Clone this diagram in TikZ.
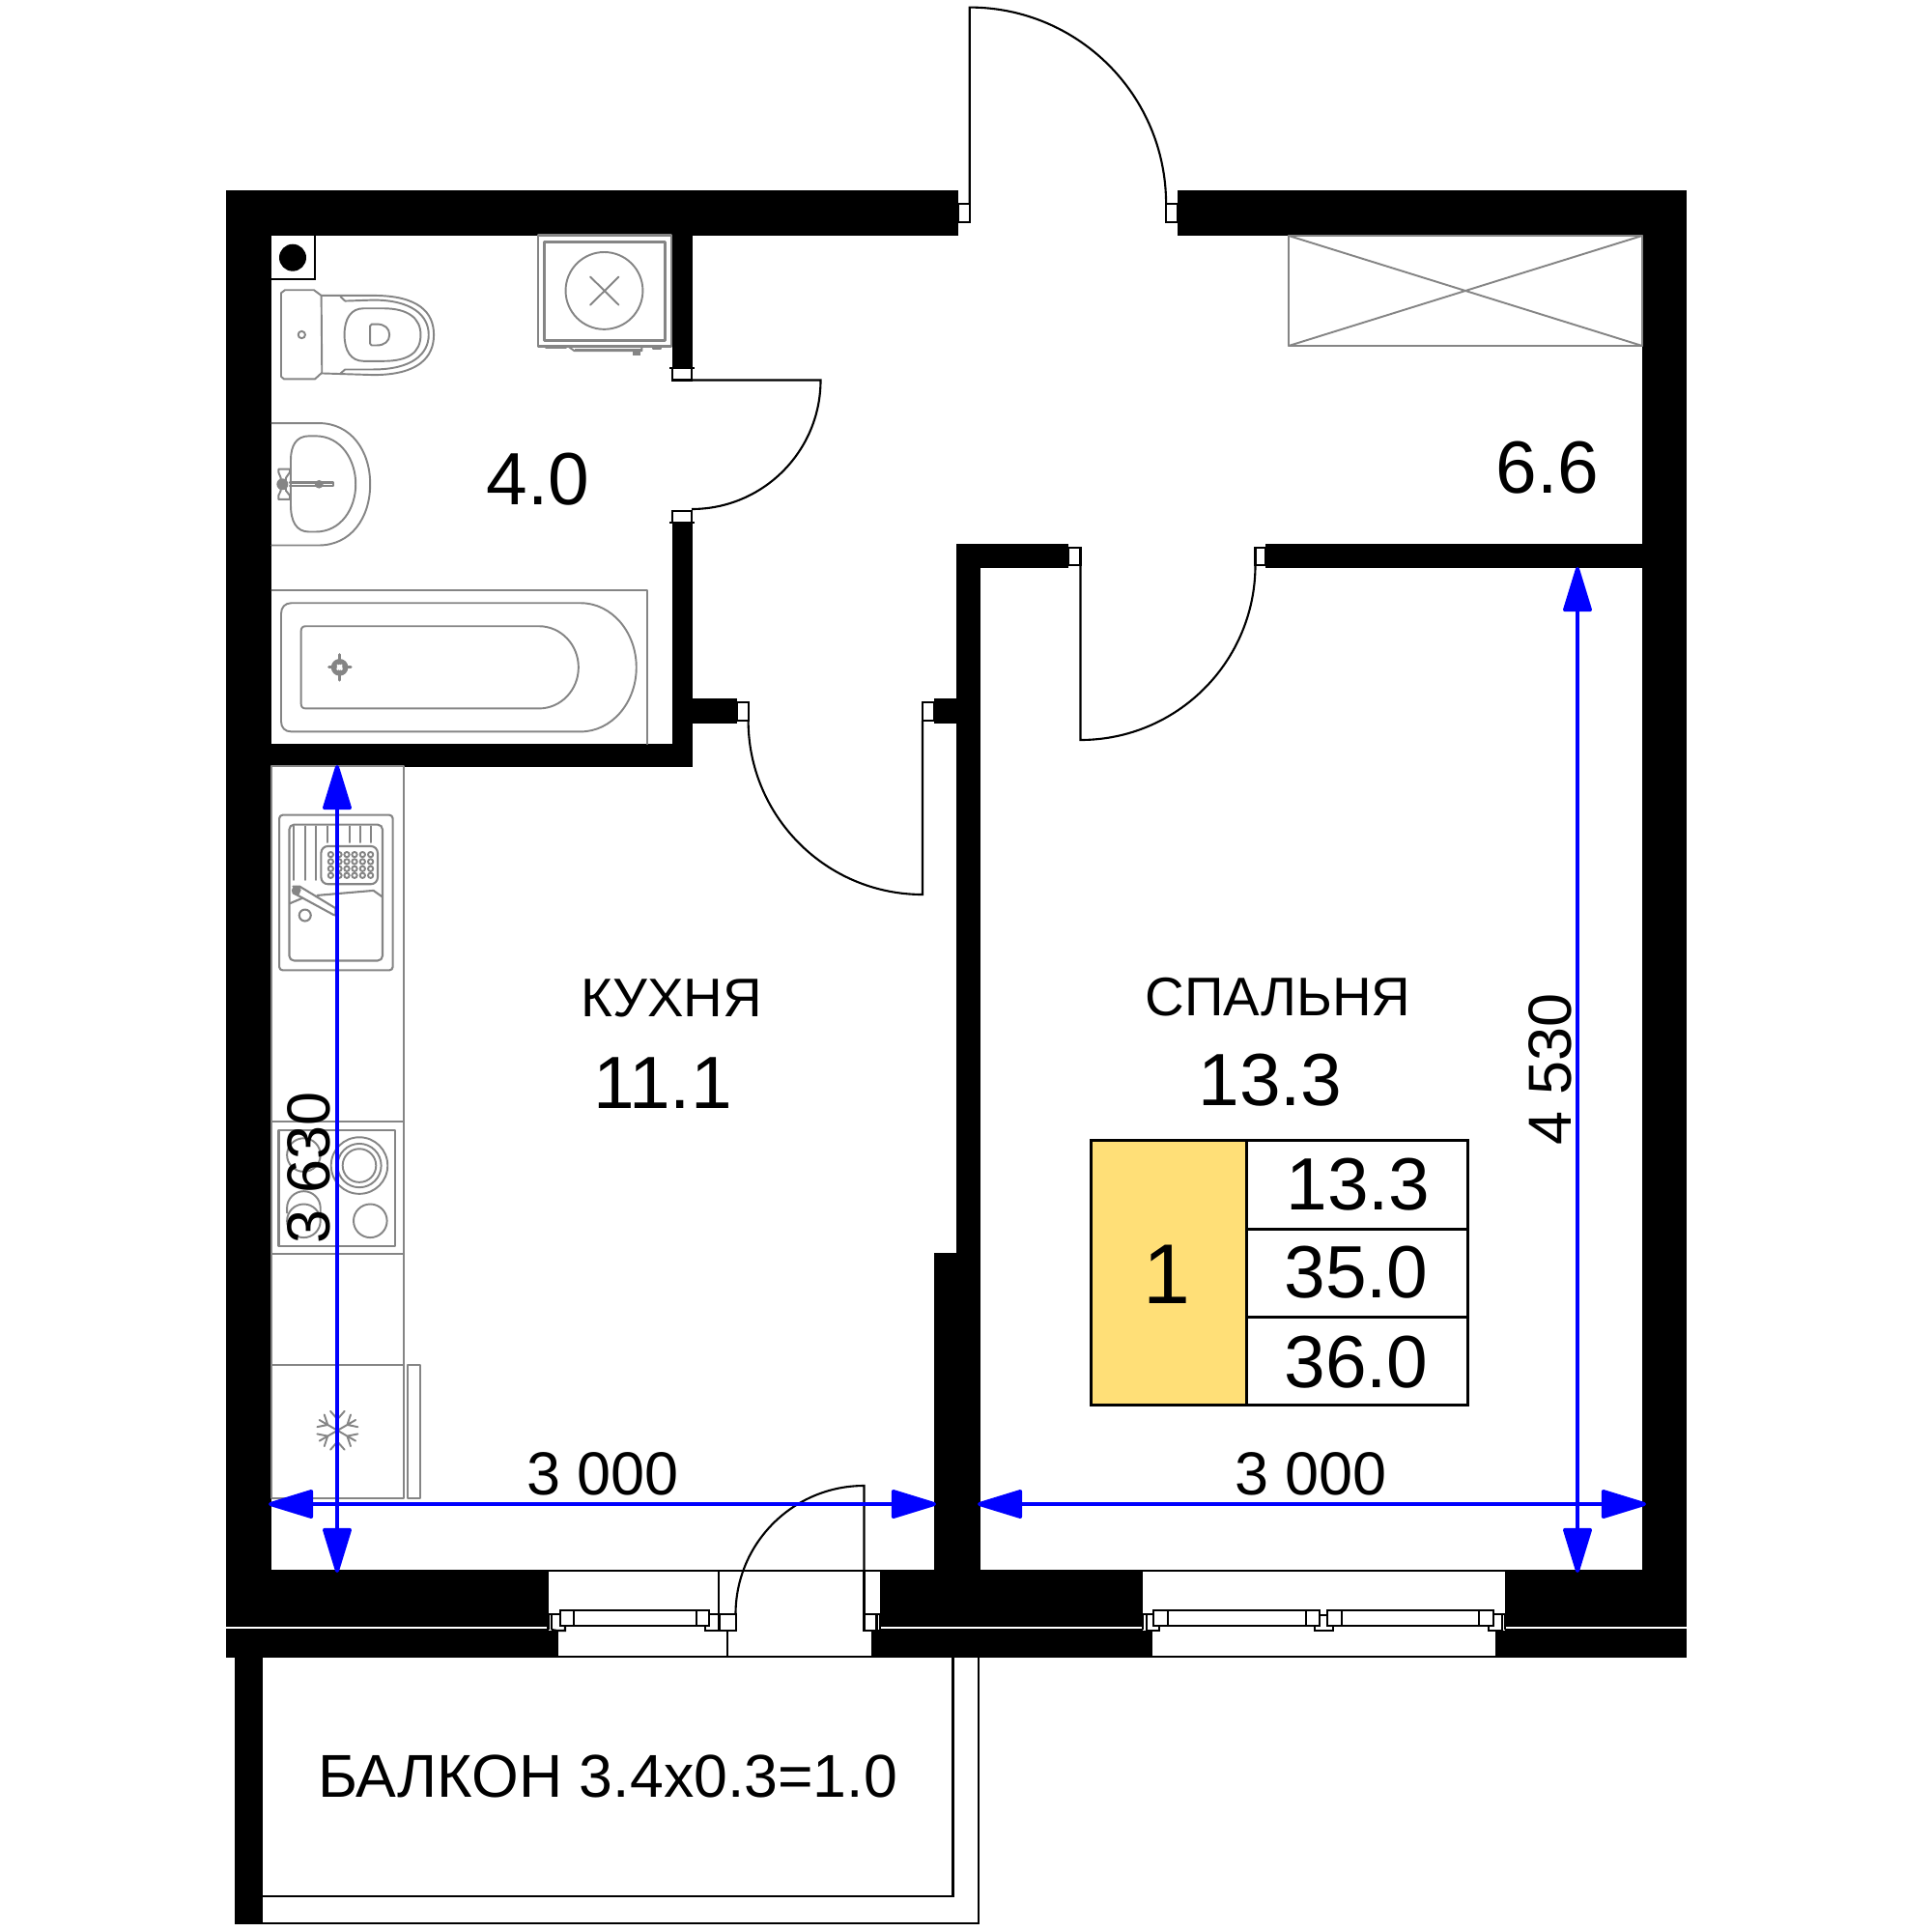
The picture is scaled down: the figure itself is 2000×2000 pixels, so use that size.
\documentclass[tikz,border=0pt]{standalone}
\usepackage{fontspec}
\setmainfont{Liberation Sans}
\usetikzlibrary{arrows.meta}
\definecolor{fixgray}{HTML}{858585}
\definecolor{cellyellow}{HTML}{FFDF77}
\definecolor{dimblue}{HTML}{0000FF}
\tikzset{
  wall/.style={fill=black,draw=none},
  opening/.style={fill=white,draw=none},
  doorline/.style={draw=black,line width=0.6pt,line join=miter},
  fix/.style={draw=fixgray,line width=0.55pt,line cap=round,line join=round},
  dimline/.style={draw=dimblue,line width=1.15pt,{Triangle[length=14.6pt,width=8.6pt,round]}-{Triangle[length=14.6pt,width=8.6pt,round]}},
  zA/.style={x=0.0033333cm,y=-0.0033333cm,shift={(2.2cm,-1.9cm)}},
  zB/.style={x=0.0033333cm,y=-0.0033333cm,shift={(2.2cm,-5.8cm)}},
  zC/.style={x=0.0033333cm,y=-0.0033333cm,shift={(2.7cm,-7.8cm)}},
  zD/.style={x=0.0033333cm,y=-0.0033333cm,shift={(2.7cm,-11.4cm)}},
  txt/.style={anchor=base,inner sep=0pt,outer sep=0pt,text=black},
  bigt/.style={txt,font=\fontsize{21.8pt}{24pt}\selectfont},
  roomt/.style={txt,font=\fontsize{16pt}{18pt}\selectfont},
  dimt/.style={txt,font=\fontsize{17.9pt}{19pt}\selectfont},
}
\begin{document}
\begin{tikzpicture}[x=0.01cm,y=-0.01cm]
\useasboundingbox (0,0) rectangle (2000,2000);
% walls
\fill[wall] (234,197) rectangle (992,244);
\fill[wall] (1219,197) rectangle (1746,244);
\fill[wall] (234,197) rectangle (281,1716);
\fill[wall] (1700,197) rectangle (1746,1716);
\fill[wall] (234,1625) rectangle (1746,1716);
\fill[wall] (696,244) rectangle (716.5,381);
\fill[wall] (696,541) rectangle (716.5,794);
\fill[wall] (281,770) rectangle (716.5,794);
\fill[wall] (716,723) rectangle (763,749);
\fill[wall] (967,723) rectangle (990,749);
\fill[wall] (990,563) rectangle (1014.5,1297);
\fill[wall] (967,1297) rectangle (1015,1625);
\fill[wall] (990,563) rectangle (1106,588);
\fill[wall] (1310,563) rectangle (1700,588);
\fill[wall] (243,1716) rectangle (272,1992);
% thin white joint in the wall
\fill[white] (234,1684.3) rectangle (1746,1686);
% openings
\fill[opening] (567.5,1627) rectangle (911,1688);
\fill[opening] (577,1688) rectangle (903,1714);
\fill[opening] (1182.6,1627) rectangle (1558,1688);
\fill[opening] (1191.5,1688) rectangle (1549,1714);
% kitchen window
\draw[doorline] (580,1667) rectangle (734,1683);
\draw[doorline] (594,1667) -- (594,1683) (721,1667) -- (721,1683);
\draw[doorline] (567.5,1671) -- (580,1671) (567.5,1671) -- (567.5,1687) (571,1671) -- (571,1687);
\draw[doorline] (571,1687) -- (577,1688) -- (585,1688) -- (585,1683);
\draw[doorline] (734,1671) -- (745,1671) (730,1683) -- (730,1688) -- (745,1688);
% balcony door
\draw[doorline] (745,1671) rectangle (762,1688);
\draw[doorline] (744,1627) -- (744,1688);
\draw[doorline] (752.6,1688) -- (752.6,1714);
\draw[doorline] (894.5,1671) rectangle (911,1688);
\draw[doorline] (907.5,1671) -- (907.5,1688);
\draw[doorline] (894.5,1627) -- (894.5,1671);
\draw[doorline] (894.5,1671) -- (894.5,1538) arc[start angle=-90,end angle=-180,radius=133];
% bedroom window
\draw[doorline] (1194,1667) rectangle (1366,1683);
\draw[doorline] (1209,1667) -- (1209,1683) (1352,1667) -- (1352,1683);
\draw[doorline] (1374,1667) rectangle (1546,1683);
\draw[doorline] (1388.6,1667) -- (1388.6,1683) (1531,1667) -- (1531,1683);
\draw[doorline] (1366,1672) -- (1374,1672);
\draw[doorline] (1361,1683) -- (1361,1688) -- (1380,1688) -- (1380,1683);
\draw[doorline] (1182.6,1671) -- (1194,1671) (1182.6,1671) -- (1182.6,1687) (1186.6,1671) -- (1186.6,1688) -- (1200,1688) -- (1200,1683);
\draw[doorline] (1546,1671) -- (1558,1671) (1558,1671) -- (1558,1687) (1555,1671) -- (1555,1688) -- (1541,1688) -- (1541,1683);
% lines along the openings
\draw[doorline] (567.5,1626) -- (911,1626);
\draw[doorline] (1182.6,1626) -- (1558,1626);
\draw[doorline] (577,1688) -- (577,1715) -- (903,1715) -- (903,1688);
\draw[doorline] (1191.5,1688) -- (1191.5,1715) -- (1549,1715) -- (1549,1688);
% entrance door
\draw[doorline] (992,211) rectangle (1003.7,230);
\draw[doorline] (1207,211) rectangle (1219,230);
\draw[doorline] (1003.7,211) -- (1003.7,7.6) arc[start angle=-90,end angle=0,radius=203.4];
% bathroom door
\draw[doorline] (696,381) rectangle (716,393.5);
\draw[doorline] (696,529) rectangle (716,541);
\draw[doorline] (693,381) -- (719,381) (693,541) -- (719,541);
\draw[doorline] (716,393.5) -- (849.5,393.5) arc[start angle=0,end angle=90,radius=133.5];
% kitchen door
\draw[doorline] (763,727) rectangle (774.6,746);
\draw[doorline] (955,727) rectangle (967,746);
\draw[doorline] (955,746) -- (955,926) arc[start angle=90,end angle=180,radius=180.4];
% bedroom door
\draw[doorline] (1106,567) rectangle (1118.5,585);
\draw[doorline] (1299.5,567) rectangle (1310,585);
\draw[doorline] (1118.5,585) -- (1118.5,766) arc[start angle=90,end angle=0,radius=181];
% balcony rails
\draw[doorline] (272,1963) -- (986.5,1963) -- (986.5,1716);
\draw[doorline] (272,1991) -- (1013,1991) -- (1013,1716);
% shaft
\draw[doorline] (281,289) -- (326,289) -- (326,244);
\fill[black] (303,266.7) circle (14);
% wardrobe
\draw[fix] (1334,244) rectangle (1700,358);
\draw[fix] (1334,244) -- (1700,358) (1334,358) -- (1700,244);
% toilet, sink, boiler
\begin{scope}[zA]
\draw[fix] (225,331) -- (315,331) -- (338,348) -- (340,588) -- (318,608) -- (222,608) -- (213,600) -- (213,340) -- cycle;
\draw[fix] (277,470) circle (11);
\draw[fix] (340,348) -- (500,348) .. controls (640,348) and (688,400) .. (688,470) .. controls (688,540) and (640,595) .. (500,595) -- (340,590);
\draw[fix] (398,352) -- (412,365) -- (500,362) .. controls (620,362) and (672,410) .. (672,470) .. controls (672,530) and (620,578) .. (500,578) -- (412,578) -- (398,590);
\draw[fix] (470,388) -- (530,388) .. controls (610,388) and (647,420) .. (647,470) .. controls (647,525) and (610,552) .. (530,552) -- (470,552) .. controls (430,552) and (410,520) .. (410,470) .. controls (410,420) and (430,388) .. (470,388) -- cycle;
\draw[fix] (495,437) -- (510,437) .. controls (535,437) and (550,450) .. (550,470) .. controls (550,490) and (535,503) .. (510,503) -- (495,503) -- (490,498) -- (490,442) -- cycle;
\draw[fix,line width=0.8pt] (1012,160) rectangle (1427,505);
\draw[fix,line width=0.8pt] (1032,181) rectangle (1407,487);
\draw[fix] (1218,333) circle (120);
\draw[fix] (1175,290) -- (1263,377) (1175,377) -- (1263,290);
\draw[fix] (1035,505) rectangle (1098,510);
\draw[fix] (1107,507) -- (1335,507) -- (1335,520) -- (1125,520) -- cycle;
\fill[fixgray] (1125,514) rectangle (1335,520);
\fill[fixgray] (1308,520) rectangle (1332,534);
\draw[fix] (1370,505) rectangle (1395,513);
\draw[fix] (184,745) -- (330,745) .. controls (430,745) and (490,830) .. (490,935) .. controls (490,1040) and (430,1125) .. (330,1125) -- (184,1125);
\draw[fix] (300,785) -- (320,785) .. controls (400,785) and (445,860) .. (445,935) .. controls (445,1010) and (400,1083) .. (320,1083) -- (300,1083) .. controls (260,1083) and (243,1050) .. (243,1000) -- (243,860) .. controls (243,815) and (260,785) .. (300,785) -- cycle;
\draw[fix,line width=0.7pt] (240,930) -- (375,930) -- (375,940) -- (240,940);
\fill[fixgray] (331,935) circle (13);
\fill[fixgray] (217,935) circle (18);
\draw[fix] (205,888) -- (240,888) -- (240,898) -- (228,915) -- (228,955) -- (240,970) -- (240,982) -- (205,982) -- (205,970) -- (212,955) -- (212,915) -- (205,898) -- cycle;
\end{scope}
% bath
\begin{scope}[zB]
\draw[fix] (184,92) -- (1352,92) -- (1352,570);
\draw[fix] (245,132) -- (1145,132) arc[start angle=-90,end angle=90,x radius=173,y radius=200] -- (245,532) .. controls (225,532) and (213,520) .. (213,500) -- (213,165) .. controls (213,145) and (225,132) .. (245,132) -- cycle;
\draw[fix] (290,204) -- (1015,204) arc[start angle=-90,end angle=90,x radius=123,y radius=128] -- (290,460) .. controls (280,460) and (275,455) .. (275,445) -- (275,219) .. controls (275,209) and (280,204) .. (290,204) -- cycle;
\draw[fix,line width=1.4pt,line cap=butt] (395,332) circle (19);
\draw[fix,line width=0.8pt] (362,332) -- (430,332) (395,292) -- (395,372);
\fill[white] (395,332) circle (9);
\end{scope}
% kitchen counter
\draw[fix,line width=0.6pt] (281,793) rectangle (417.7,1412.7);
\draw[fix] (281,1160.7) -- (417.7,1160.7) (281,1298) -- (417.7,1298);
\begin{scope}[zC]
\draw[fix,rounded corners=1pt,line width=0.6pt] (57,190) rectangle (410,673);
\draw[fix,rounded corners=1.4pt,line width=0.6pt] (88,220) rectangle (378,643);
\foreach \xr in {102,138,172} {\draw[fix,line width=0.6pt] (\xr,225) -- (\xr,392);}
\foreach \xr in {207,275,310,343} {\draw[fix,line width=0.6pt] (\xr,225) -- (\xr,275);}
\draw[fix,rounded corners=2pt,line width=0.6pt] (187,287) rectangle (363,405);
\foreach \xr in {217,243,267,291,316,341} {\foreach \yr in {313,335,357,378} {\draw[fix] (\xr,\yr) circle (8);}}
\draw[fix,line width=0.6pt] (175,440) -- (350,425) -- (378,445);
\draw[fix,line width=0.6pt] (90,465) -- (130,448);
\draw[fix,line width=0.6pt] (137,502) circle (18);
\draw[fix,line width=0.6pt] (100,412) -- (120,412) -- (232,480) -- (232,502) -- (225,500) -- (100,432);
\fill[fixgray] (110,425) circle (15);
\fill[white] (125,425) -- (225,485) -- (222,492) -- (120,435) -- cycle;
\end{scope}
% hob, fridge
\begin{scope}[zD]
\draw[fix,line width=0.6pt] (55,88) rectangle (418,450);
\draw[fix] (306,198) circle (88) (306,198) circle (68) (306,198) circle (52);
\draw[fix] (340,370) circle (52);
\draw[fix] (133,165) circle (52);
\draw[fix] (133,370) circle (52);
\draw[fix] (81,345) -- (81,330) arc[start angle=180,end angle=360,radius=52] -- (185,345);
\draw[fix,line width=0.6pt] (32,818) rectangle (443,1232);
\draw[fix,line width=0.6pt] (457,818) rectangle (494,1232);
\foreach \ang in {30,90,150,210,270,330} {
  \begin{scope}[shift={(238,1022)},rotate=\ang]
  \draw[fix] (0,0) -- (65,0) (35,0) -- (60,22) (35,0) -- (60,-22);
  \end{scope}
}
\end{scope}
% table
\fill[cellyellow] (1129,1180) rectangle (1290,1454);
\draw[black,line width=0.85pt] (1129,1180) rectangle (1519,1454);
\draw[black,line width=0.85pt] (1290,1180) -- (1290,1454) (1290,1272) -- (1519,1272) (1290,1363) -- (1519,1363);
% dimensions
\coordinate (dl1) at (278,1557);
\coordinate (dr1) at (969,1557);
\coordinate (dl2) at (1012,1557);
\coordinate (dr2) at (1704,1557);
\coordinate (dt1) at (349,792);
\coordinate (db1) at (349,1628);
\coordinate (dt2) at (1633,587);
\coordinate (db2) at (1633,1628);
\draw[dimline] (dl1) -- (dr1);
\draw[dimline] (dl2) -- (dr2);
\draw[dimline] (dt1) -- (db1);
\draw[dimline] (dt2) -- (db2);
% labels
\node[bigt] (tBath) at (557,522) {4.0};
\node[bigt] (tHall) at (1602,510) {6.6};
\node[roomt] (tKitchen) at (695,1052) {КУХНЯ};
\node[bigt] (tKitchenA) at (686,1147) {11.1};
\node[roomt] (tBedroom) at (1323,1051) {СПАЛЬНЯ};
\node[bigt] (tBedroomA) at (1315,1144) {13.3};
\node[txt,font=\fontsize{25pt}{28pt}\selectfont] (tRooms) at (1208,1349) {1};
\node[bigt] (tLiving) at (1406,1252) {13.3};
\node[bigt] (tTotalA) at (1404,1343) {35.0};
\node[bigt] (tTotalB) at (1404,1436) {36.0};
\node[dimt] (tW1) at (624,1547) {3 000};
\node[dimt] (tW2) at (1357,1547) {3 000};
\node[dimt,rotate=90] (tH1) at (341,1209) {3 630};
\node[dimt,rotate=90] (tH2) at (1626,1107) {4 530};
\node[txt,font=\fontsize{17.8pt}{20pt}\selectfont] (tBalcony) at (629,1860) {БАЛКОН 3.4x0.3=1.0};
\end{tikzpicture}
\end{document}
